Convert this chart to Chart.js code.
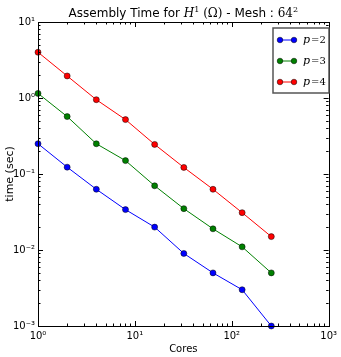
<!DOCTYPE html>
<html>
<head>
<meta charset="utf-8">
<script src="https://cdn.jsdelivr.net/npm/chart.js@4"></script>
<style>
  body { margin: 0; background: #fff; }
  #wrap { width: 341px; height: 357px; }
</style>
</head>
<body>
<div id="wrap"><canvas id="chart"></canvas></div>
<script>
// data
let cores = [1, 2, 4, 8, 16, 32, 64, 128, 256];
let timeP2 = [0.25, 0.123, 0.063, 0.034, 0.02, 0.009, 0.005, 0.003, 0.001];
let timeP3 = [1.15, 0.57, 0.25, 0.15, 0.07, 0.035, 0.019, 0.011, 0.005];
let timeP4 = [4.0, 1.95, 0.95, 0.52, 0.245, 0.122, 0.063, 0.031, 0.015];
let seriesNames = ["2", "3", "4"];
let seriesColors = ["#0000ff", "#008000", "#ff0000"];
let xTicks = [1, 10, 100, 1000];
let yTicks = [0.001, 0.01, 0.1, 1, 10];

let sup = { "0": "⁰", "1": "¹", "2": "²", "3": "³", "-": "⁻" };
function powLabel(v) {
    let e = Math.round(Math.log10(v));
    return "10" + String(e).split("").map(c => sup[c]).join("");
}

function makeSet(i, values) {
    return {
        label: "p=" + seriesNames[i],
        data: cores.map((c, k) => ({ x: c, y: values[k] })),
        borderColor: seriesColors[i],
        backgroundColor: seriesColors[i],
        pointBorderColor: "#000",
        pointBorderWidth: 0.5,
        pointRadius: 3,
        borderWidth: 1,
        tension: 0
    };
}

// ticks inside the box on all four sides, the frame, title and legend
let decor = {
    id: "decor",
    afterDatasetsDraw(chart) {
        let ctx = chart.ctx;
        let a = chart.chartArea;
        let xs = chart.scales.x, ys = chart.scales.y;
        ctx.save();
        ctx.strokeStyle = "#000";
        ctx.lineWidth = 1;

        function vals(min, max) {
            let out = [];
            for (let e = Math.round(Math.log10(min)); e < Math.round(Math.log10(max)); e++) {
                for (let k = 1; k < 10; k++) out.push({ v: k * Math.pow(10, e), major: k === 1 });
            }
            out.push({ v: max, major: true });
            return out;
        }
        ctx.beginPath();
        vals(1, 1000).forEach(t => {
            let x = Math.round(xs.getPixelForValue(t.v)) + 0.5;
            let len = t.major ? 5 : 2.5;
            ctx.moveTo(x, a.bottom); ctx.lineTo(x, a.bottom - len);
            ctx.moveTo(x, a.top); ctx.lineTo(x, a.top + len);
        });
        vals(0.001, 10).forEach(t => {
            let y = Math.round(ys.getPixelForValue(t.v)) + 0.5;
            let len = t.major ? 5 : 2.5;
            ctx.moveTo(a.left, y); ctx.lineTo(a.left + len, y);
            ctx.moveTo(a.right, y); ctx.lineTo(a.right - len, y);
        });
        ctx.stroke();
        ctx.strokeRect(Math.round(a.left) + 0.5, Math.round(a.top) + 0.5,
            Math.round(a.right - a.left), Math.round(a.bottom - a.top));

        // title
        let parts = [
            ["Assembly Time for ", "12px 'DejaVu Sans'", 0],
            ["H", "italic 12px 'DejaVu Serif'", 0],
            ["1", "8px 'DejaVu Serif'", -5],
            [" (Ω)", "12px 'DejaVu Serif'", 0],
            [" - Mesh : ", "12px 'DejaVu Sans'", 0],
            ["64", "12px 'DejaVu Serif'", 0],
            ["2", "8px 'DejaVu Serif'", -5]
        ];
        let total = 0;
        parts.forEach(p => { ctx.font = p[1]; total += ctx.measureText(p[0]).width; });
        let tx = (a.left + a.right) / 2 - total / 2;
        ctx.fillStyle = "#000";
        ctx.textBaseline = "alphabetic";
        ctx.textAlign = "left";
        parts.forEach(p => {
            ctx.font = p[1];
            ctx.fillText(p[0], tx, 17 + p[2]);
            tx += ctx.measureText(p[0]).width;
        });

        // legend
        let lx = 273, ly = 28, lw = 56, lh = 65;
        ctx.strokeStyle = "#555";
        ctx.lineWidth = 1.5;
        ctx.fillStyle = "#fff";
        ctx.fillRect(lx, ly, lw, lh);
        ctx.strokeRect(lx, ly, lw, lh);
        chart.data.datasets.forEach((d, i) => {
            let y = ly + 12 + i * 21;
            ctx.strokeStyle = d.borderColor;
            ctx.lineWidth = 1;
            ctx.beginPath();
            ctx.moveTo(lx + 7, y); ctx.lineTo(lx + 21, y);
            ctx.stroke();
            [lx + 7, lx + 21].forEach(px => {
                ctx.beginPath();
                ctx.arc(px, y, 2.8, 0, Math.PI * 2);
                ctx.fillStyle = d.borderColor;
                ctx.fill();
                ctx.strokeStyle = "#000";
                ctx.lineWidth = 0.5;
                ctx.stroke();
            });
            ctx.fillStyle = "#000";
            ctx.textBaseline = "middle";
            ctx.font = "italic 11px 'DejaVu Serif'";
            ctx.fillText("p", lx + 30, y);
            let w = ctx.measureText("p").width;
            ctx.font = "10px 'DejaVu Serif'";
            ctx.fillText("=" + seriesNames[i], lx + 30 + w + 1, y);
        });
        ctx.restore();
    }
};

new Chart(document.getElementById("chart"), {
    type: "line",
    data: {
        datasets: [makeSet(0, timeP2), makeSet(1, timeP3), makeSet(2, timeP4)]
    },
    options: {
        responsive: true,
        maintainAspectRatio: false,
        animation: false,
        clip: false,
        layout: { padding: { top: 22, right: 8, left: 4, bottom: 2 } },
        plugins: {
            legend: { display: false },
            title: { display: false },
            tooltip: { enabled: false }
        },
        scales: {
            x: {
                type: "logarithmic",
                min: 1,
                max: 1000,
                afterBuildTicks: s => { s.ticks = xTicks.map(v => ({ value: v })); },
                afterFit: s => { s.height = 29; },
                grid: { display: false, drawTicks: false },
                border: { display: false },
                ticks: {
                    autoSkip: false,
                    maxRotation: 0,
                    padding: 4,
                    color: "#000",
                    font: { family: "DejaVu Sans", size: 10 },
                    callback: v => powLabel(v)
                },
                title: {
                    display: true,
                    text: "Cores",
                    color: "#000",
                    padding: { top: 0, bottom: 0 },
                    font: { family: "DejaVu Sans", size: 10 }
                }
            },
            y: {
                type: "logarithmic",
                min: 0.001,
                max: 10,
                afterBuildTicks: s => { s.ticks = yTicks.map(v => ({ value: v })); },
                afterFit: s => { s.width = 34; },
                grid: { display: false, drawTicks: false },
                border: { display: false },
                ticks: {
                    autoSkip: false,
                    padding: 3,
                    color: "#000",
                    font: { family: "DejaVu Sans", size: 10 },
                    callback: v => powLabel(v)
                },
                title: {
                    display: true,
                    text: "time (sec)",
                    color: "#000",
                    padding: { top: 0, bottom: 0 },
                    font: { family: "DejaVu Sans", size: 11 }
                }
            }
        }
    },
    plugins: [decor]
});
</script>
</body>
</html>
